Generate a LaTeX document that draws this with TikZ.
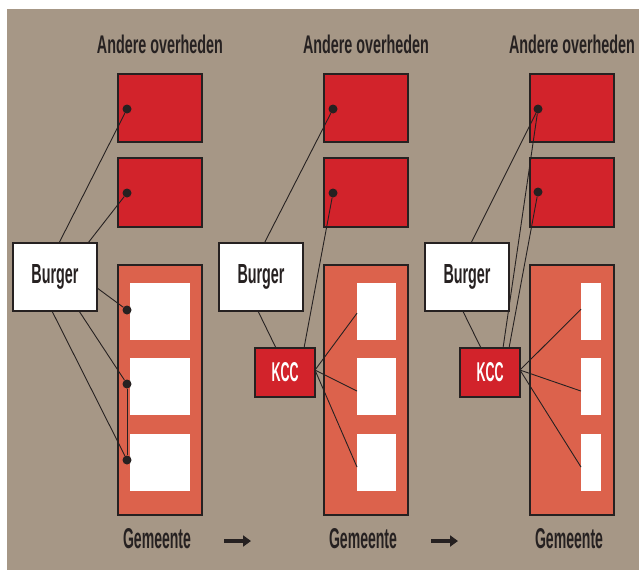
\documentclass[tikz,border=0pt]{standalone}
\usepackage{fontspec}
\usepackage{graphicx}
\setmainfont{Liberation Sans}
\usetikzlibrary{calc,arrows.meta}
\definecolor{bgc}{RGB}{166,151,134}
\definecolor{redbox}{RGB}{210,35,43}
\definecolor{gembox}{RGB}{220,98,76}
\definecolor{ink}{RGB}{38,33,33}
\newcommand{\lbl}[3]{\resizebox{#1pt}{#2pt}{\bfseries #3}}
\begin{document}
\begin{tikzpicture}[x=1pt,y=-1pt,
  box/.style={draw=ink, line width=1.1pt, inner sep=0pt, outer sep=0pt},
  redb/.style={box, fill=redbox, minimum width=84pt},
  gemb/.style={box, fill=gembox, minimum width=84pt, minimum height=250pt},
  burg/.style={box, fill=white, minimum width=84pt, minimum height=68pt, text=ink},
  kcc/.style={box, fill=redbox, minimum width=60pt, minimum height=49pt, text=white},
  wsq/.style={fill=white, draw=none, inner sep=0pt, outer sep=0pt, minimum height=57pt},
  dot/.style={circle, fill=ink, inner sep=0pt, minimum size=9pt},
  conn/.style={draw=ink, line width=0.9pt},
  ttl/.style={anchor=base, inner sep=0pt, text=ink},
  flow/.style={draw=ink, line width=3.2pt, -{Triangle[length=8pt,width=11pt]}}
]
\useasboundingbox (0,0) rectangle (639,570);
\fill[bgc] (7,9) rectangle (639,570);

\foreach \c/\o in {1/0,2/206,3/412}{
  \node[ttl] (t\c) at (160+\o,53) {\lbl{126}{18.5}{Andere overheden}};
  \node[redb, minimum height=68pt] (ra\c) at (160+\o,108) {};
  \node[redb, minimum height=69pt] (rb\c) at (160+\o,192.5) {};
  \node[gemb] (g\c) at (160+\o,390) {};
  \node[burg] (bu\c) at (55+\o,277) {\lbl{47}{19}{Burger}};
  \node[ttl] (gl\c) at (157+\o,548.5) {\lbl{68}{20}{Gemeente}};
}

% white squares
\foreach \n/\y in {a/311.5,b/386.5,c/462.5}{
  \node[wsq, minimum width=60pt] (w1\n) at (160,\y) {};
  \node[wsq, minimum width=39pt] (w2\n) at (376.5,\y) {};
  \node[wsq, minimum width=20pt] (w3\n) at (591,\y) {};
}

% KCC
\node[kcc] (k2) at (285,372.5) {\lbl{27}{19}{KCC}};
\node[kcc] (k3) at (490,372.5) {\lbl{27}{19}{KCC}};

% dots
\node[dot] (da1) at (127,109) {};
\node[dot] (db1) at (127,193) {};
\node[dot] (dg1a) at (127,310) {};
\node[dot] (dg1b) at (127,384) {};
\node[dot] (dg1c) at (127,460) {};
\node[dot] (da2) at (333,109) {};
\node[dot] (db2) at (333,193) {};
\node[dot] (da3) at (538,109) {};
\node[dot] (db3) at (538,192) {};

% column 1 connectors
\draw[conn] ($(bu1.north west)!0.548!(bu1.north east)$) -- (da1);
\draw[conn] ($(bu1.north west)!0.893!(bu1.north east)$) -- (db1);
\draw[conn] ($(bu1.north east)!0.66!(bu1.south east)$) -- (dg1a);
\draw[conn] ($(bu1.south west)!0.786!(bu1.south east)$) -- (dg1b);
\draw[conn] ($(bu1.south west)!0.464!(bu1.south east)$) -- (dg1c);
\draw[conn] (dg1b) -- (dg1c);

% column 2 connectors
\draw[conn] ($(bu2.north west)!0.54!(bu2.north east)$) -- (da2);
\draw[conn] ($(bu2.south west)!0.464!(bu2.south east)$) -- ($(k2.north west)!0.35!(k2.north east)$);
\draw[conn] ($(k2.north west)!0.817!(k2.north east)$) -- (db2);
\coordinate (k2r) at ($(k2.north east)!0.45!(k2.south east)$);
\draw[conn] (k2r) -- ($(w2a.north west)!0.53!(w2a.south west)$);
\draw[conn] (k2r) -- ($(w2b.north west)!0.58!(w2b.south west)$);
\draw[conn] (k2r) -- ($(w2c.north west)!0.58!(w2c.south west)$);

% column 3 connectors
\draw[conn] ($(bu3.north west)!0.548!(bu3.north east)$) -- (da3);
\draw[conn] ($(bu3.south west)!0.45!(bu3.south east)$) -- ($(k3.north west)!0.35!(k3.north east)$);
\draw[conn] ($(k3.north west)!0.717!(k3.north east)$) -- (da3);
\draw[conn] ($(k3.north west)!0.817!(k3.north east)$) -- (db3);
\coordinate (k3r) at ($(k3.north east)!0.45!(k3.south east)$);
\draw[conn] (k3r) -- ($(w3a.north west)!0.46!(w3a.south west)$);
\draw[conn] (k3r) -- ($(w3b.north west)!0.58!(w3b.south west)$);
\draw[conn] (k3r) -- ($(w3c.north west)!0.58!(w3c.south west)$);

% flow arrows
\coordinate (f1s) at (224,541);
\coordinate (f1e) at (251,541);
\coordinate (f2s) at (431,541);
\coordinate (f2e) at (458,541);
\draw[flow] (f1s) -- (f1e);
\draw[flow] (f2s) -- (f2e);
\end{tikzpicture}
\end{document}
